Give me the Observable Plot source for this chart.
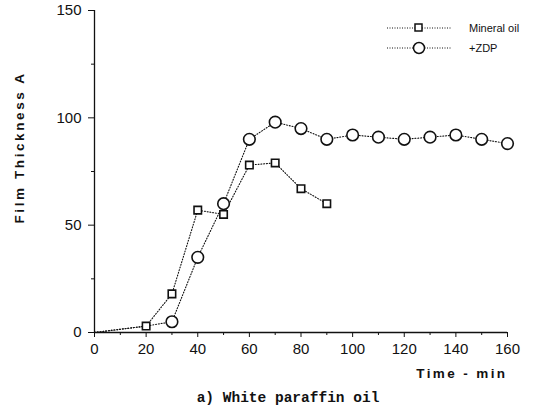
<!DOCTYPE html>
<html>
<head>
<meta charset="utf-8">
<script src="https://cdn.jsdelivr.net/npm/d3@7"></script>
<script src="https://cdn.jsdelivr.net/npm/@observablehq/plot@0.6"></script>
<style>
  body { margin: 0; background: #fff; }
  #wrap { position: relative; width: 542px; height: 417px; font-family: "Liberation Sans", Arial, sans-serif; }
  #caption { position: absolute; left: 0; width: 576px; top: 390px; text-align: center; font-family: "Liberation Mono", "DejaVu Sans Mono", monospace; font-weight: bold; font-size: 14.5px; color: #111; }
  #legend { position: absolute; left: 385px; top: 18px; font-size: 11px; color: #111; }
  .row { display: flex; align-items: center; height: 20px; }
  .row span { margin-left: 18px; }
</style>
</head>
<body>
<div id="wrap"></div>
<script>
const timeMineral = [0, 20, 30, 40, 50, 60, 70, 80, 90];
const thickMineral = [0, 3, 18, 57, 55, 78, 79, 67, 60];
const timeZDP = [0, 20, 30, 40, 50, 60, 70, 80, 90, 100, 110, 120, 130, 140, 150, 160];
const thickZDP = [0, 3, 5, 35, 60, 90, 98, 95, 90, 92, 91, 90, 91, 92, 90, 88];
const xTicks = [0, 20, 40, 60, 80, 100, 120, 140, 160];
const xMinor = [10, 30, 50, 70, 90, 110, 130, 150];
const yTicks = [0, 50, 100, 150];
const yMinor = [25, 75, 125];
const seriesNames = ["Mineral oil", "+ZDP"];
const xLabel = "Time - min";
const yLabel = "Film Thickness A";
const captionText = "a) White paraffin oil";

const mineral = timeMineral.map((t, i) => ({t, v: thickMineral[i]}));
const zdp = timeZDP.map((t, i) => ({t, v: thickZDP[i]}));

const chart = Plot.plot({
  width: 542,
  height: 380,
  marginLeft: 94,
  marginRight: 35,
  marginTop: 10,
  marginBottom: 48,
  style: {fontFamily: "'Liberation Sans', Arial, sans-serif", fontSize: "13px", color: "#111", background: "#fff"},
  x: {domain: [0, 160]},
  y: {domain: [0, 150]},
  marks: [
    Plot.ruleX([0], {stroke: "#111", strokeWidth: 1.3}),
    Plot.ruleY([0], {stroke: "#111", strokeWidth: 1.3}),
    Plot.axisX({ticks: xTicks, tickSize: 5, tickPadding: 6, label: null, fontSize: 15}),
    Plot.axisX({ticks: xMinor, tickSize: 3, tickFormat: () => "", label: null}),
    Plot.axisY({ticks: yTicks, tickSize: 6, tickPadding: 7, label: null, fontSize: 15}),
    Plot.axisY({ticks: yMinor, tickSize: 3, tickFormat: () => "", label: null}),
    Plot.line(mineral, {x: "t", y: "v", stroke: "#111", strokeWidth: 1.1, strokeDasharray: "1,1.8", curve: "linear"}),
    Plot.line(zdp, {x: "t", y: "v", stroke: "#111", strokeWidth: 1.1, strokeDasharray: "1,1.8", curve: "linear"}),
    Plot.dot(mineral.filter(d => d.t > 0), {x: "t", y: "v", symbol: "square", r: 4.2, fill: "#fff", stroke: "#111", strokeWidth: 1.6}),
    Plot.dot(zdp.filter(d => d.t > 20), {x: "t", y: "v", symbol: "circle", r: 5.8, fill: "#fff", stroke: "#111", strokeWidth: 1.6}),
    Plot.text([xLabel], {frameAnchor: "bottom-right", dy: 45, dx: 0, fontWeight: "bold", fontSize: 13.5, textAnchor: "end", text: d => d, className: "xlab"}),
    Plot.text([yLabel], {frameAnchor: "left", dx: -75, dy: -24, rotate: -90, textAnchor: "middle", fontWeight: "bold", fontSize: 13.5, text: d => d, className: "ylab"})
  ]
});

d3.select(chart).selectAll(".xlab text").style("letter-spacing", "2.4px");
d3.select(chart).selectAll(".ylab text").style("letter-spacing", "2.6px");

const wrap = document.getElementById("wrap");
wrap.appendChild(chart);

const cap = document.createElement("div");
cap.id = "caption";
cap.textContent = captionText;
wrap.appendChild(cap);

const legend = document.createElement("div");
legend.id = "legend";
const shapes = ['<rect x="30" y="5" width="7" height="7" fill="#fff" stroke="#111" stroke-width="1.5"/>',
                '<circle cx="34" cy="9" r="5.5" fill="#fff" stroke="#111" stroke-width="1.5"/>'];
seriesNames.forEach((name, i) => {
  const row = document.createElement("div");
  row.className = "row";
  row.innerHTML = `<svg width="66" height="18"><line x1="2" y1="9" x2="66" y2="9" stroke="#111" stroke-width="1" stroke-dasharray="1,1.5"/>${shapes[i]}</svg><span>${name}</span>`;
  legend.appendChild(row);
});
wrap.appendChild(legend);
</script>
</body>
</html>
